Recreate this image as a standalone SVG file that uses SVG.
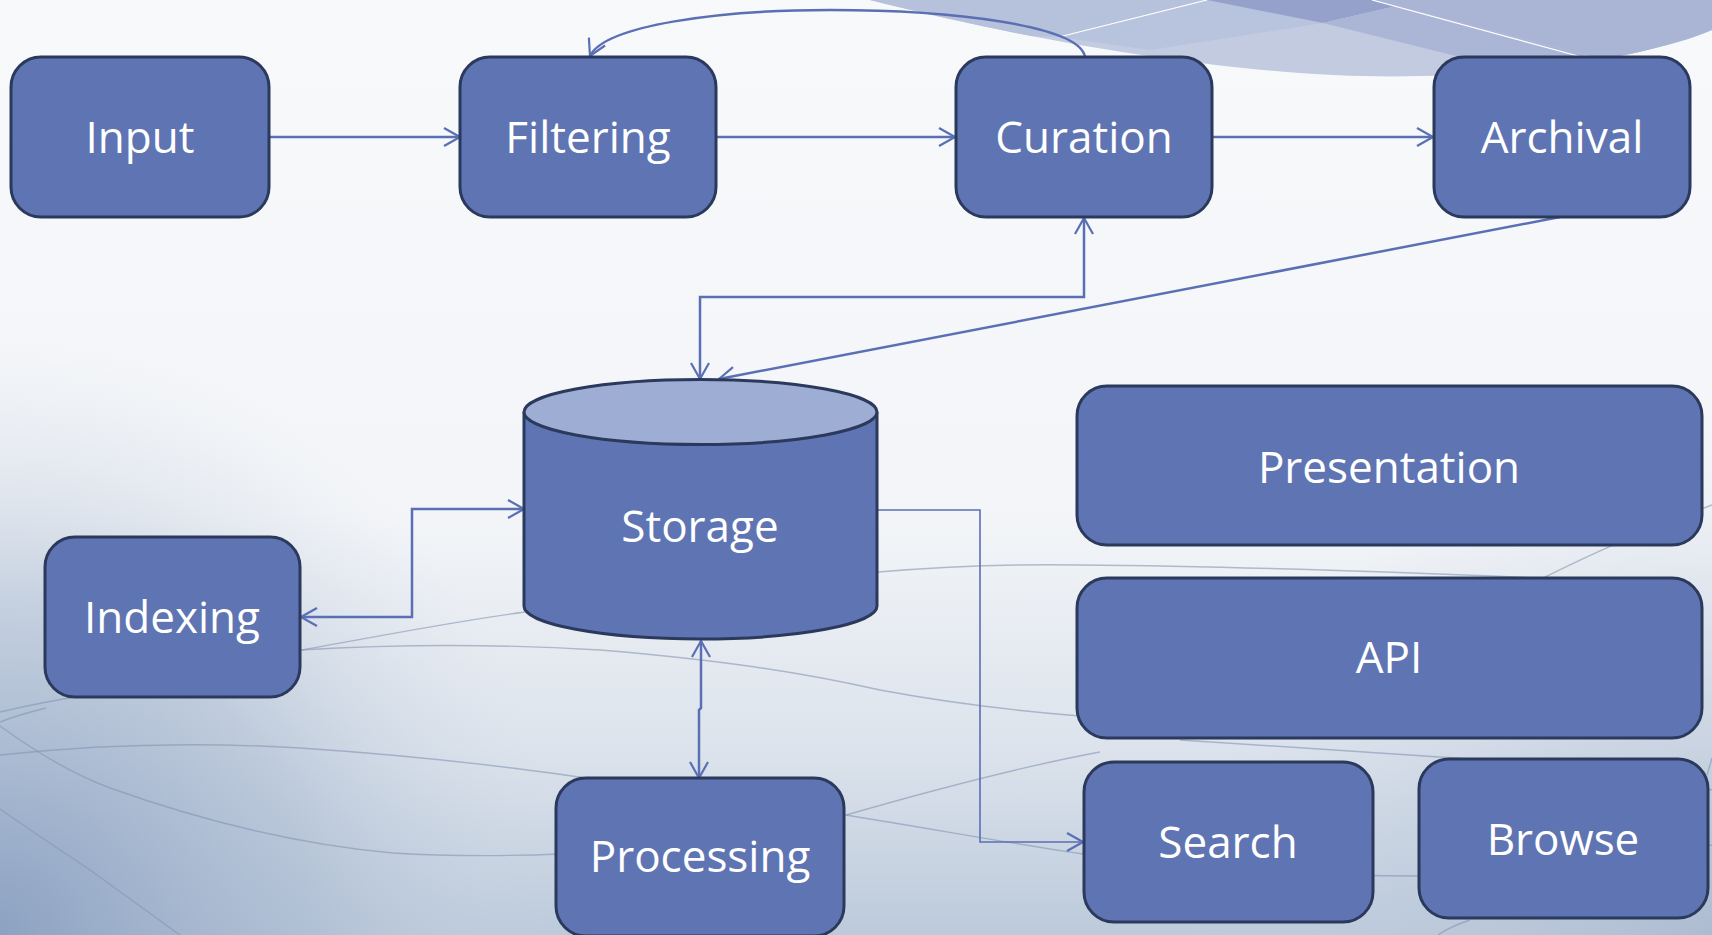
<svg xmlns="http://www.w3.org/2000/svg" width="1712" height="935" viewBox="0 0 1712 935">
<defs>
<linearGradient id="bg" x1="0" y1="0" x2="0" y2="1">
<stop offset="0" stop-color="#f8f9fb"/>
<stop offset="0.55" stop-color="#f3f5f8"/>
<stop offset="0.8" stop-color="#dce3ec"/>
<stop offset="1" stop-color="#bccadb"/>
</linearGradient>
<radialGradient id="bl" cx="0" cy="935" r="1" gradientUnits="userSpaceOnUse" gradientTransform="translate(0,935) scale(560,600) translate(0,-935)">
<stop offset="0" stop-color="#8aa0c1" stop-opacity="0.95"/>
<stop offset="0.55" stop-color="#a6b7cf" stop-opacity="0.55"/>
<stop offset="1" stop-color="#d0d9e5" stop-opacity="0"/>
</radialGradient>
<radialGradient id="br" cx="1712" cy="935" r="520" gradientUnits="userSpaceOnUse">
<stop offset="0" stop-color="#a6b6cd" stop-opacity="0.7"/>
<stop offset="1" stop-color="#c8d3e2" stop-opacity="0"/>
</radialGradient>
<clipPath id="sw">
<path d="M870,0 C1100,58 1300,80 1420,76 C1560,72 1660,52 1712,30 L1712,0 Z"/>
</clipPath>
<marker id="ah" viewBox="0 0 18 20" refX="17" refY="10" markerWidth="18" markerHeight="20" markerUnits="userSpaceOnUse" orient="auto-start-reverse">
<path d="M1,1 L17,10 L1,19" fill="none" stroke="#5b6fb4" stroke-width="2.2"/>
</marker>
<style>
.node{fill:#5f75b3;stroke:#2b395c;stroke-width:3}
.top{fill:#9eadd3;stroke:#2b395c;stroke-width:3}
.lbl{font-family:"Open Sans","Liberation Sans",sans-serif;font-size:44px;fill:#ffffff;text-anchor:middle}
.c{fill:none;stroke:#5b6fb4;stroke-width:2.5}
.thin{stroke-width:1.6}
.deco{fill:none;stroke:#8495b3;stroke-width:1.4;opacity:0.6}
</style>
</defs>

<g id="background">
<rect width="1712" height="935" fill="url(#bg)"/>
<rect width="1712" height="935" fill="url(#bl)"/>
<rect width="1712" height="935" fill="url(#br)"/>
<g clip-path="url(#sw)">
<rect x="860" y="0" width="860" height="90" fill="#c3cbe1"/>
<polygon points="860,0 1207,0 1059,37 860,30" fill="#b6c1dc"/>
<polygon points="1207,0 1059,37 1150,50 1323,23" fill="#b8c3dd"/>
<polygon points="1207,0 1323,23 1422,0" fill="#95a1cb"/>
<polygon points="1422,0 1323,23 1480,62 1587,55 1372,0" fill="#abb6d6"/>
<polygon points="1372,0 1712,0 1712,90 1587,55" fill="#aab5d5"/>
<line x1="1059" y1="37" x2="1207" y2="0" stroke="#ffffff" stroke-width="1.2"/>
<line x1="1372" y1="0" x2="1600" y2="62" stroke="#ffffff" stroke-width="1.2"/>
</g>
<path class="deco" d="M0,755 C100,744 200,742 300,748 C420,756 520,768 600,780 C700,795 780,805 846,815 C950,832 1020,845 1090,855 C1200,868 1300,876 1420,876 C1550,874 1650,860 1712,845" stroke="#60779e" stroke-width="2" opacity="0.85"/>
<path class="deco" d="M0,726 C40,755 75,775 110,788 C200,820 300,845 393,853 C460,857 510,856 560,854"/>
<path class="deco" d="M0,809 C30,830 60,850 90,870 C120,892 150,913 180,935"/>
<path class="deco" d="M0,712 C30,705 55,700 82,696"/>
<path class="deco" d="M0,722 C15,716 30,712 46,708"/>
<path class="deco" d="M300,650 C400,644 500,644 600,650 C720,660 800,672 880,690 C960,705 1030,712 1080,716" opacity="0.45"/>
<path class="deco" d="M302,650 C380,636 450,622 525,612" opacity="0.4"/>
<path class="deco" d="M878,572 C950,566 1020,564 1080,565" opacity="0.35"/>
<path class="deco" d="M1080,565 C1200,566 1350,570 1540,578" opacity="0.35"/>
<path class="deco" d="M1545,577 C1580,560 1620,540 1712,505" opacity="0.5"/>
<path class="deco" d="M846,815 C950,785 1030,765 1100,752" opacity="0.6"/>
<path class="deco" d="M1180,740 C1300,748 1450,757 1560,765 C1620,770 1670,780 1712,790" opacity="0.45"/>
<path class="deco" d="M1470,920 C1455,925 1445,930 1438,935" opacity="0.6"/>
<path class="deco" d="M1707,775 C1709,768 1711,762 1712,758" opacity="0.6"/>
</g>

<g id="connectors">
<path class="c" d="M269,137 L460,137" marker-end="url(#ah)"/>
<path class="c" d="M716,137 L955,137" marker-end="url(#ah)"/>
<path class="c" d="M1212,137 L1433,137" marker-end="url(#ah)"/>
<path class="c" d="M1085,57 C1080,25 950,10 830,10 C720,10 605,25 590,56" marker-end="url(#ah)"/>
<path class="c" d="M700,379 L700,297 L1084,297 L1084,218" marker-start="url(#ah)" marker-end="url(#ah)"/>
<path class="c" d="M1560,217 L719,379" marker-end="url(#ah)"/>
<path class="c" d="M524,509 L412,509 L412,617 L301,617" marker-start="url(#ah)" marker-end="url(#ah)"/>
<path class="c" d="M701,641 L701,708 L699,710 L699,778" marker-start="url(#ah)" marker-end="url(#ah)"/>
<path class="c thin" d="M877,510 L980,510 L980,842 L1083,842" marker-end="url(#ah)"/>
</g>

<g id="node-input">
<rect class="node" x="11" y="57" width="258" height="160" rx="30"/>
<text class="lbl" x="140" y="153">Input</text>
</g>
<g id="node-filtering">
<rect class="node" x="460" y="57" width="256" height="160" rx="30"/>
<text class="lbl" x="588" y="153">Filtering</text>
</g>
<g id="node-curation">
<rect class="node" x="956" y="57" width="256" height="160" rx="30"/>
<text class="lbl" x="1084" y="153">Curation</text>
</g>
<g id="node-archival">
<rect class="node" x="1434" y="57" width="256" height="160" rx="30"/>
<text class="lbl" x="1562" y="153">Archival</text>
</g>
<g id="node-storage">
<path class="node" d="M524,412 L524,606 A176.5,33 0 0 0 877,606 L877,412"/>
<ellipse class="top" cx="700.5" cy="412" rx="176.5" ry="32.5"/>
<text class="lbl" x="700" y="542">Storage</text>
</g>
<g id="node-indexing">
<rect class="node" x="45" y="537" width="255" height="160" rx="30"/>
<text class="lbl" x="172" y="633">Indexing</text>
</g>
<g id="node-processing">
<rect class="node" x="556" y="778" width="288" height="158" rx="30"/>
<text class="lbl" x="700" y="872">Processing</text>
</g>
<g id="node-presentation">
<rect class="node" x="1077" y="386" width="625" height="159" rx="30"/>
<text class="lbl" x="1389" y="483">Presentation</text>
</g>
<g id="node-api">
<rect class="node" x="1077" y="578" width="625" height="160" rx="30"/>
<text class="lbl" x="1389" y="673">API</text>
</g>
<g id="node-search">
<rect class="node" x="1084" y="762" width="289" height="160" rx="30"/>
<text class="lbl" x="1228" y="858">Search</text>
</g>
<g id="node-browse">
<rect class="node" x="1419" y="759" width="289" height="159" rx="30"/>
<text class="lbl" x="1563" y="855">Browse</text>
</g>
</svg>
